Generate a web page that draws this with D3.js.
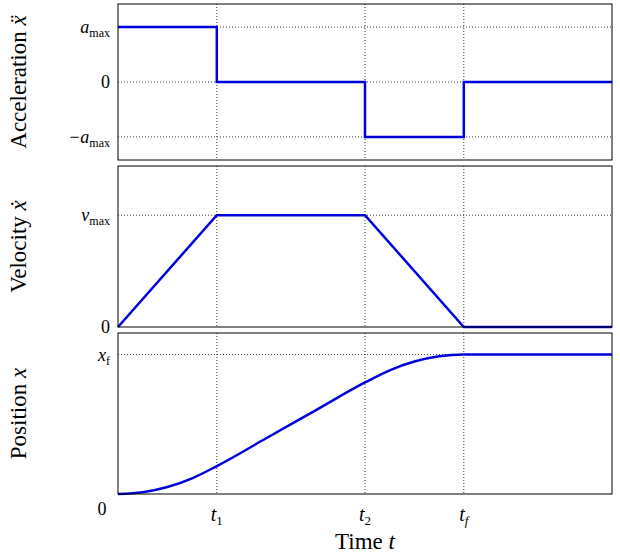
<!DOCTYPE html><html><head><meta charset="utf-8"><script src="https://cdn.jsdelivr.net/npm/d3@7"></script>
<style>body{margin:0;background:#fff}text{font-family:"Liberation Serif","DejaVu Serif",serif;}</style></head><body>
<svg id="c" width="620" height="554"></svg>
<script>
const tTicks=[1,2.5,3.5];
const tLabels=["t1","t2","tf"];
const accT=[0,1,1,2.5,2.5,3.5,3.5,5];
const accV=[1,1,0,0,-1,-1,0,0];
const velT=[0,1,2.5,3.5,5];
const velV=[0,1,1,0,0];
const posT=[0,0.25,0.5,0.75,1,1.5,2,2.5,2.75,3,3.25,3.5,5];
const posV=[0,0.0125,0.05,0.1125,0.2,0.4,0.6,0.8,0.8875,0.95,0.9875,1,1];
const svg=d3.select("#c");
const x=d3.scaleLinear().domain([0,5]).range([118,612]);
const panels=[
 {top:4,bot:160,dom:[-1.42,1.42],T:accT,V:accV,label:["Acceleration ","ẍ"],ticks:[[1,"a","max"],[0,"0"],[-1,"−a","max"]],hl:[1,0,-1]},
 {top:166,bot:327,dom:[0,1.44],T:velT,V:velV,label:["Velocity ","ẋ"],ticks:[[1,"v","max"],[0,"0"]],hl:[1]},
 {top:333,bot:494,dom:[0,1.155],T:posT,V:posV,label:["Position ","x"],ticks:[[1,"x","f"]],hl:[1]}
];
panels.forEach((p,i)=>{
 const y=d3.scaleLinear().domain(p.dom).range([p.bot,p.top]);
 const g=svg.append("g");
 // vertical dotted lines
 tTicks.forEach(t=>g.append("line").attr("x1",x(t)).attr("x2",x(t)).attr("y1",p.top).attr("y2",p.bot).attr("stroke","#000").attr("stroke-width",0.8).attr("stroke-dasharray","1,2"));
 p.hl.forEach(v=>g.append("line").attr("x1",118).attr("x2",612).attr("y1",y(v)).attr("y2",y(v)).attr("stroke","#000").attr("stroke-width",0.8).attr("stroke-dasharray","1,2"));
 const pts=p.T.map((t,k)=>[t,p.V[k]]);
 const line=d3.line().x(d=>x(d[0])).y(d=>y(d[1]));
 if(i===2) line.curve(d3.curveMonotoneX);
 g.append("path").attr("d",line(pts)).attr("fill","none").attr("stroke","#0000dd").attr("stroke-width",2.5);
 g.append("rect").attr("x",118).attr("y",p.top).attr("width",494).attr("height",p.bot-p.top).attr("fill","none").attr("stroke","#000").attr("stroke-width",1);
 p.ticks.forEach(tk=>{
  const tx=g.append("text").attr("x",110).attr("y",y(tk[0])+6).attr("text-anchor","end").attr("font-size",18);
  if(tk.length===3){tx.append("tspan").attr("font-style","italic").text(tk[1]);tx.append("tspan").attr("font-size",12).attr("dy",4).text(tk[2]);}
  else tx.text(tk[1]);
 });
 const cy=(p.top+p.bot)/2;
 const lt=g.append("text").attr("transform",`translate(26,${cy}) rotate(-90)`).attr("text-anchor","middle").attr("font-size",23);
 lt.append("tspan").text(p.label[0]);lt.append("tspan").attr("font-style","italic").text(p.label[1]);
});
svg.append("text").attr("x",102).attr("y",515).attr("font-size",18).attr("text-anchor","middle").text("0");
tTicks.forEach((t,k)=>{
 const tx=svg.append("text").attr("x",x(t)).attr("y",521).attr("text-anchor","middle").attr("font-size",20);
 tx.append("tspan").attr("font-style","italic").text("t");
 tx.append("tspan").attr("font-size",13).attr("dy",4).attr("font-style",k===2?"italic":"normal").text(tLabels[k].slice(1));
});
const xl=svg.append("text").attr("x",365).attr("y",549).attr("text-anchor","middle").attr("font-size",23);
xl.append("tspan").text("Time  ");xl.append("tspan").attr("font-style","italic").text("t");
</script></body></html>
